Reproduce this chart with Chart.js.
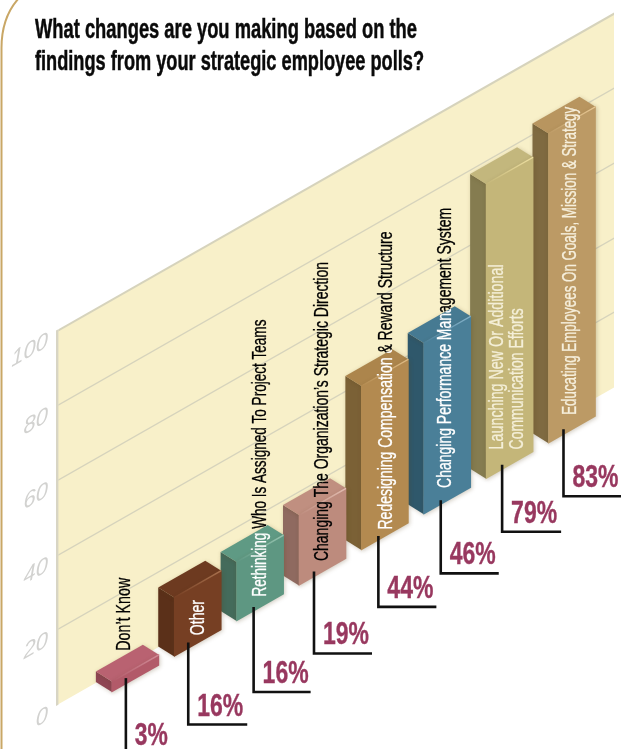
<!DOCTYPE html>
<html><head><meta charset="utf-8">
<style>html,body{margin:0;padding:0;background:#fff;width:621px;height:749px;overflow:hidden}
canvas{display:block;filter:blur(.5px)}</style>
<script src="https://cdn.jsdelivr.net/npm/chart.js@4"></script></head>
<body><canvas id="c" width="621" height="749" style="width:621px;height:749px"></canvas>
<script>
const titleLines = ['What changes are you making based on the','findings from your strategic employee polls?'];
const categories = [["Don\u2019t Know"],["Other"],["Rethinking Who Is Assigned To Project Teams"],["Changing The Organization\u2019s Strategic Direction"],["Redesigning Compensation & Reward Structure"],["Changing Performance Management System"],["Launching New Or Additional","Communication Efforts"],["Educating Employees On Goals, Mission & Strategy"]];
const values = [3,16,16,19,44,46,79,83];
const yTicks = [0,20,40,60,80,100];
const frontColors = ['#b25a69','#763f23','#5e9782','#bd8b7d','#b38a50','#4a7f98','#c4b679','#bc9a65'];
const sideColors  = ['#8e4553','#5b3019','#446b5b','#8f6a60','#7b6136','#2f586b','#857c50','#7f6a41'];
const topColors   = ['#b96271','#6d3a20','#5f9a84','#c08f80','#ac854c','#467a92','#c3b77d','#b8955f'];
const lightColors = ['#d08a96','#a8714e','#96c4b0','#e2bcb0','#e0bd86','#86b4cc','#eee0a2','#e8c894'];
const onBarText   = ['#000','#fff','#fff','#000','#fff','#fff','#f4efd8','#f6efdc'];
/* layout constants (pixels), not data */
const K = 0.57, X0 = 57, DX = 16, DY = 10 + K * 16, BAR_W = 47;
const labelShift = [-11,1,0,0,2,-2,-2,-2];
const labelLift  = [28,8,11,11,7,13,16,15];
const labelLen   = [[73],[35],[277],[299],[298],[280],[185,141],[308]];
const leaderShift= [0,0,3,1,3,3,2,1];
const leaderDrop = [84,82,85,82,71,73,67,67];
const leaderWidth= [0,59,57,58,58,58,59,58];

const sh = (x,y)=>[x, y - K*(x-X0)];
const poly3d = {
  id:'poly3d',
  beforeDraw(chart){
    const c=chart.ctx,a=chart.chartArea;
    c.save();
    c.transform(1,-K,0,1,0,K*X0);
    c.fillStyle='#f8f0c9';
    c.fillRect(a.left,a.top,a.right-a.left,a.bottom-a.top);
  },
  beforeDatasetDraw(chart,args){
    const c=chart.ctx;
    c.save();
    c.shadowColor='rgba(90,70,30,.28)';c.shadowBlur=4;c.shadowOffsetX=1;c.shadowOffsetY=1;
    args.meta.data.forEach((b,i)=>{
      const l=b.x-b.width/2,r=b.x+b.width/2;
      c.fillStyle=sideColors[i];
      c.beginPath();c.moveTo(l,b.y);c.lineTo(l+DX,b.y+DY);c.lineTo(l+DX,b.base+DY);c.lineTo(l,b.base);c.closePath();c.fill();
      c.fillStyle=topColors[i];
      c.beginPath();c.moveTo(l,b.y);c.lineTo(r,b.y);c.lineTo(r+DX,b.y+DY);c.lineTo(l+DX,b.y+DY);c.closePath();c.fill();
    });
    c.translate(DX,DY);
  },
  afterDatasetDraw(chart,args){
    const c=chart.ctx;c.restore();
    args.meta.data.forEach((b,i)=>{
      const l=b.x-b.width/2+DX,r=b.x+b.width/2+DX,y=b.y+DY;
      const g=c.createLinearGradient(l,0,r,0);
      g.addColorStop(0,frontColors[i]);g.addColorStop(1,lightColors[i]);
      c.strokeStyle=g;c.lineWidth=1.6;
      c.beginPath();c.moveTo(l,y);c.lineTo(r,y);c.stroke();
    });
  },
  afterDraw(chart){
    const c=chart.ctx;c.restore();
    const bars=chart.getDatasetMeta(0).data;
    // frame
    c.strokeStyle='#c9a766';c.lineWidth=2;
    c.beginPath();c.moveTo(1.5,749);c.lineTo(1.5,48);c.bezierCurveTo(1.5,28,8,10,19,-2);c.stroke();
    // title
    c.fillStyle='#0a0a0a';c.strokeStyle='#0a0a0a';c.lineWidth=.5;c.textAlign='left';c.textBaseline='alphabetic';
    c.font='bold 27px "Liberation Sans Narrow","Liberation Sans"';
    c.fillText(titleLines[0],35,38,382);c.strokeText(titleLines[0],35,38,382);
    c.fillText(titleLines[1],35,70,389);c.strokeText(titleLines[1],35,70,389);
    bars.forEach((b,i)=>{
      const [fx,fyBase]=sh(b.x-b.width/2+DX,b.base+DY);
      const lines=categories[i];
      const cx=fx+b.width/2+labelShift[i];
      const by=fyBase-b.width/2*K-labelLift[i];
      const drawText=(col)=>{
        c.fillStyle=col;c.strokeStyle=col;c.lineWidth=.3;
        lines.forEach((t,j)=>{
          c.save();
          const off=lines.length>1?(j===0?-10:10):0;
          c.translate(cx+off,by);c.rotate(-Math.PI/2);
          c.font='20px "Liberation Sans Narrow","Liberation Sans"';
          c.textAlign='left';c.textBaseline='middle';
          c.fillText(t,0,0,labelLen[i][j]);
          c.strokeText(t,0,0,labelLen[i][j]);
          c.restore();
        });
      };
      const l=b.x-b.width/2,r=b.x+b.width/2;
      const pts=[[l,b.y],[r,b.y],[r+DX,b.y+DY],[r+DX,b.base+DY],[l+DX,b.base+DY],[l+DX,b.y+DY]].map(p=>sh(p[0],p[1]));
      const trace=()=>pts.forEach((p,n)=>n?c.lineTo(p[0],p[1]):c.moveTo(p[0],p[1]));
      // outside the bar
      c.save();
      c.beginPath();c.rect(0,0,621,749);trace();c.closePath();
      c.clip('evenodd');drawText('#000');c.restore();
      // on the bar
      c.save();c.beginPath();trace();c.closePath();c.clip();drawText(onBarText[i]);c.restore();
      // leader line + value
      const lx=fx+14+leaderShift[i], ty=sh(l+DX+14,b.base+DY)[1]-6;
      const ey=ty+leaderDrop[i];
      c.strokeStyle='#111';c.lineWidth=2.6;c.lineCap='butt';
      c.beginPath();c.moveTo(lx,ty);c.lineTo(lx,ey);
      if(leaderWidth[i]) c.lineTo(lx+leaderWidth[i],ey);
      c.stroke();
      c.fillStyle='#98385f';c.strokeStyle='#98385f';c.lineWidth=.4;c.textAlign='left';c.textBaseline='alphabetic';
      c.font='bold 32px "Liberation Sans Narrow","Liberation Sans"';
      const tw=i===0?33:46, ly=i===0?745:ey-9;
      c.fillText(values[i]+'%',lx+9,ly,tw);
      c.strokeText(values[i]+'%',lx+9,ly,tw);
    });
  }
};
new Chart(document.getElementById('c'),{
  type:'bar',
  data:{datasets:[{
    data:values.map((v,i)=>({x:i,y:v})),
    backgroundColor:frontColors,
    barThickness:BAR_W,
    borderWidth:0,
    clip:false
  }]},
  plugins:[poly3d],
  options:{
    responsive:false,animation:false,
    layout:{padding:{left:0,top:331,right:7,bottom:44}},
    plugins:{legend:{display:false},tooltip:{enabled:false},title:{display:false}},
    scales:{
      x:{type:'linear',display:false,offset:false,min:-1,max:7.93,grid:{display:false}},
      y:{min:0,max:100,
        afterFit(s){s.width=57;},
        border:{display:true,color:'#d8d5c4',width:2.4},
        grid:{drawTicks:false,
          color:c=>c.tick.value===0?'rgba(0,0,0,0)':'#d6d3bc',
          lineWidth:c=>c.tick.value===100?2.4:1.5},
        ticks:{stepSize:20,padding:9,labelOffset:4,color:'#d2d2d0',
          font:{family:'"Liberation Sans"',size:22,style:'italic'},
          callback:v=>yTicks.includes(v)?String(v):''}
      }
    }
  }
});
</script></body></html>
